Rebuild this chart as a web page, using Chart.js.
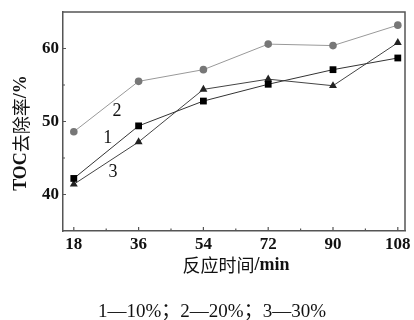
<!DOCTYPE html>
<html>
<head>
<meta charset="utf-8">
<script src="https://cdn.jsdelivr.net/npm/chart.js@4"></script>
<style>
html,body{margin:0;padding:0;background:#fff;}
#wrap{width:414px;height:320px;}
</style>
</head>
<body>
<div id="wrap"><canvas id="c" width="414" height="320"></canvas></div>
<script>
// ---- data ----
const times = [18, 36, 54, 72, 90, 108];
const series1 = [42.2, 49.4, 52.8, 55.1, 57.1, 58.7];   // 1 — 10%
const series2 = [48.6, 55.5, 57.1, 60.6, 60.4, 63.2];   // 2 — 20%
const series3 = [41.4, 47.2, 54.4, 55.8, 54.9, 60.8];   // 3 — 30%
const xTicks = [18, 36, 54, 72, 90, 108];
const xMinorTicks = [27, 45, 63, 81, 99];
const yTicks = [40, 50, 60];
const yMinorTicks = [45, 55];
const seriesNames = ['1', '2', '3'];
const yTitle = [['TOC', 'latin'], ['去除率', 'cjk'], ['/%', 'latin']];
const xTitle = [['反应时间', 'cjk'], ['/min', 'latin']];
const caption = '1—10%；2—20%；3—30%';

const toPts = arr => times.map((t, i) => ({x: t, y: arr[i]}));

const LATIN = "bold 18px 'Liberation Serif', 'DejaVu Serif', serif";
const CJK = "18px 'Noto Sans CJK SC', sans-serif";

function drawSegments(ctx, segs, cx, cy, rotate) {
  ctx.save();
  ctx.translate(cx, cy);
  if (rotate) ctx.rotate(-Math.PI / 2);
  let total = 0;
  const widths = segs.map(([t, k]) => { ctx.font = k === 'cjk' ? CJK : LATIN; const w = ctx.measureText(t).width; total += w; return w; });
  let x = -total / 2;
  ctx.textBaseline = 'middle';
  ctx.textAlign = 'left';
  ctx.fillStyle = '#111';
  segs.forEach(([t, k], i) => { ctx.font = k === 'cjk' ? CJK : LATIN; ctx.fillText(t, x, 0); x += widths[i]; });
  ctx.restore();
}

const decor = {
  id: 'decor',
  afterDraw(chart) {
    const ctx = chart.ctx, a = chart.chartArea;
    const xs = chart.scales.x, ys = chart.scales.y;
    ctx.save();
    ctx.strokeStyle = '#555';
    ctx.lineWidth = 1.5;
    ctx.beginPath();
    ctx.moveTo(a.left, a.top); ctx.lineTo(a.right, a.top); ctx.lineTo(a.right, a.bottom);
    ctx.stroke();
    ctx.lineWidth = 1.2;
    ctx.beginPath();
    xTicks.forEach(v => { const p = xs.getPixelForValue(v); ctx.moveTo(p, a.bottom); ctx.lineTo(p, a.bottom - 4); });
    xMinorTicks.forEach(v => { const p = xs.getPixelForValue(v); ctx.moveTo(p, a.bottom); ctx.lineTo(p, a.bottom - 2.5); });
    yTicks.forEach(v => { const p = ys.getPixelForValue(v); ctx.moveTo(a.left - 1, p); ctx.lineTo(a.left + 3, p); });
    yMinorTicks.forEach(v => { const p = ys.getPixelForValue(v); ctx.moveTo(a.left, p); ctx.lineTo(a.left + 2, p); });
    ctx.stroke();

    // series number labels
    const labelPos = [[27.4, 47.7], [30.0, 51.35], [28.9, 43.1]];
    ctx.font = "18px 'Liberation Serif', serif";
    ctx.fillStyle = '#111';
    ctx.textAlign = 'center';
    ctx.textBaseline = 'middle';
    seriesNames.forEach((n, i) => {
      ctx.fillText(n, xs.getPixelForValue(labelPos[i][0]), ys.getPixelForValue(labelPos[i][1]));
    });

    drawSegments(ctx, yTitle, 21, 133, true);
    drawSegments(ctx, xTitle, 236, 265, false);

    ctx.font = "19px 'Liberation Serif', 'Noto Sans CJK SC', serif";
    ctx.fillStyle = '#111';
    ctx.textAlign = 'center';
    ctx.textBaseline = 'middle';
    ctx.fillText(caption, 212, 312);
    ctx.restore();
  }
};

new Chart(document.getElementById('c'), {
  type: 'line',
  data: {
    datasets: [
      {label: '1', data: toPts(series1), borderColor: '#333', borderWidth: 1, pointStyle: 'rect', pointRadius: 4.8, backgroundColor: '#000', pointBorderColor: '#000', pointBorderWidth: 0},
      {label: '2', data: toPts(series2), borderColor: '#999', borderWidth: 1, pointStyle: 'circle', pointRadius: 3.8, backgroundColor: '#777', pointBorderColor: '#777', pointBorderWidth: 0},
      {label: '3', data: toPts(series3), borderColor: '#444', borderWidth: 1, pointStyle: 'triangle', pointRadius: 4.6, backgroundColor: '#222', pointBorderColor: '#222', pointBorderWidth: 0}
    ]
  },
  options: {
    responsive: false,
    animation: false,
    devicePixelRatio: 1,
    layout: {padding: {left: 0, right: 9, top: 12, bottom: 0}},
    plugins: {legend: {display: false}, tooltip: {enabled: false}},
    elements: {line: {tension: 0}},
    scales: {
      x: {
        type: 'linear', min: 15, max: 110,
        afterBuildTicks: s => { s.ticks = xTicks.map(v => ({value: v})); },
        afterFit: s => { s.height = 89; s.paddingLeft = 0; s.paddingRight = 0; },
        grid: {display: false, drawTicks: false},
        border: {display: true, color: '#555', width: 1.5},
        ticks: {color: '#111', padding: 3, maxRotation: 0, autoSkip: false, font: {family: "'Liberation Serif', serif", size: 17, weight: 'bold'}, callback: v => String(v)}
      },
      y: {
        min: 35, max: 65,
        afterBuildTicks: s => { s.ticks = yTicks.map(v => ({value: v})); },
        afterFit: s => { s.width = 63; s.paddingTop = 0; s.paddingBottom = 0; },
        grid: {display: false, drawTicks: false},
        border: {display: true, color: '#555', width: 1.5},
        ticks: {color: '#111', padding: 4, font: {family: "'Liberation Serif', serif", size: 17, weight: 'bold'}, callback: v => String(v)}
      }
    }
  },
  plugins: [decor]
});
</script>
</body>
</html>
